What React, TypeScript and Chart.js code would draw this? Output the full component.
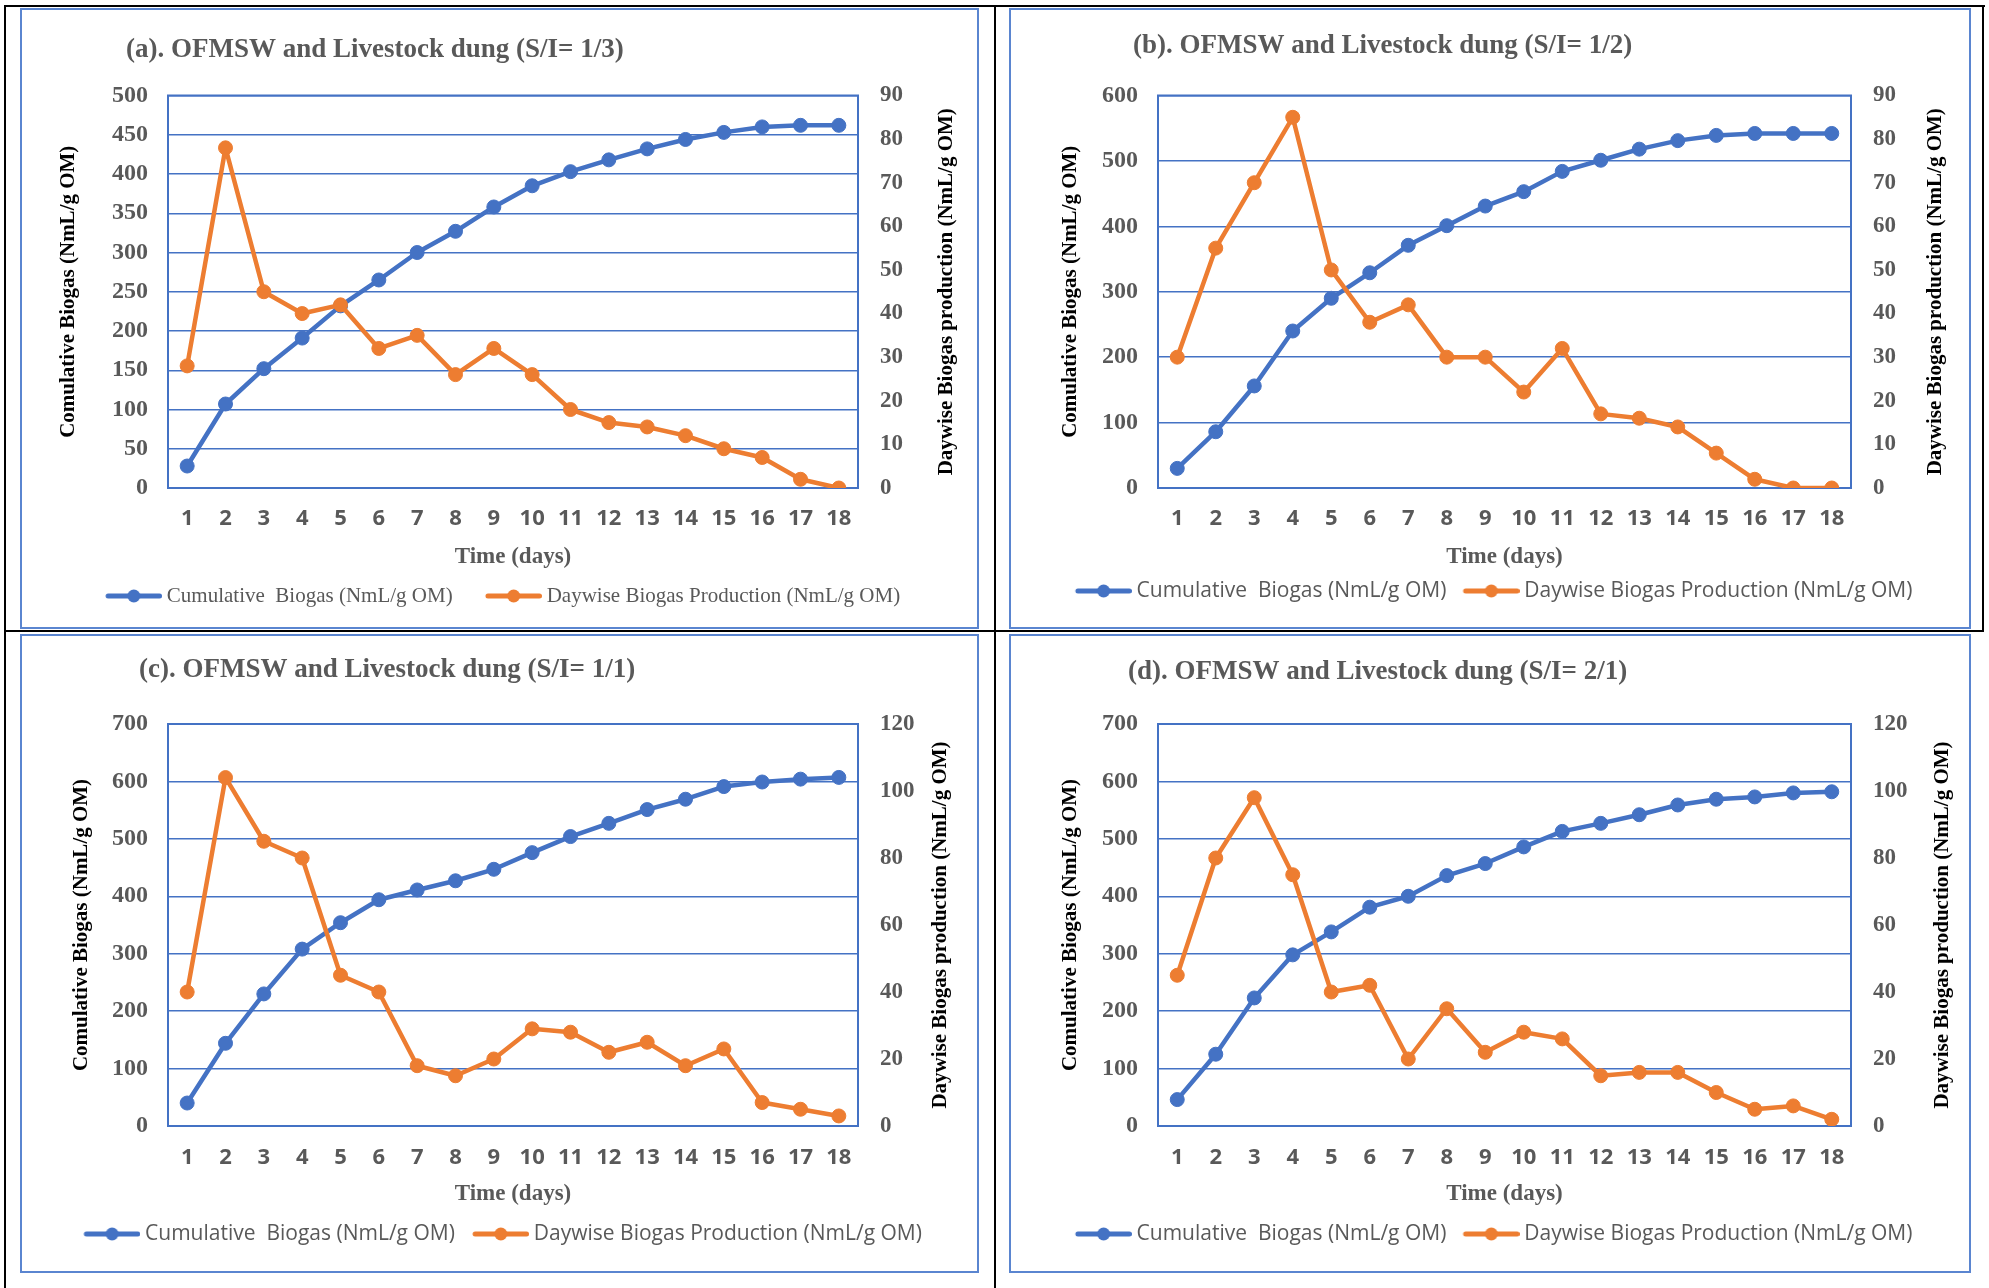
import React, { useEffect, useRef } from 'react';
import { Chart, registerables } from 'chart.js';

Chart.register(...registerables);

// ---------- data ----------
const days = ['1', '2', '3', '4', '5', '6', '7', '8', '9', '10', '11', '12', '13', '14', '15', '16', '17', '18'];

const cumulativeA = [28, 107, 152, 191, 232, 265, 300, 327, 358, 385, 403, 418, 432, 444, 453, 460, 462, 462];
const daywiseA = [28, 78, 45, 40, 42, 32, 35, 26, 32, 26, 18, 15, 14, 12, 9, 7, 2, 0];

const cumulativeB = [30, 86, 156, 240, 290, 329, 371, 401, 431, 453, 484, 501, 518, 531, 539, 542, 542, 542];
const daywiseB = [30, 55, 70, 85, 50, 38, 42, 30, 30, 22, 32, 17, 16, 14, 8, 2, 0, 0];

const cumulativeC = [40, 144, 230, 308, 354, 394, 411, 427, 447, 476, 504, 527, 551, 569, 591, 599, 604, 607];
const daywiseC = [40, 104, 85, 80, 45, 40, 18, 15, 20, 29, 28, 22, 25, 18, 23, 7, 5, 3];

const cumulativeD = [46, 125, 223, 298, 338, 381, 400, 436, 457, 486, 513, 527, 542, 559, 569, 573, 580, 582];
const daywiseD = [45, 80, 98, 75, 40, 42, 20, 35, 22, 28, 26, 15, 16, 16, 10, 5, 6, 2];

const cumulativeSeries = [cumulativeA, cumulativeB, cumulativeC, cumulativeD];
const daywiseSeries = [daywiseA, daywiseB, daywiseC, daywiseD];

const panelTitles = [
  '(a). OFMSW and Livestock dung (S/I= 1/3)',
  '(b). OFMSW and Livestock dung (S/I= 1/2)',
  '(c). OFMSW and Livestock dung (S/I= 1/1)',
  '(d). OFMSW and Livestock dung (S/I= 2/1)',
];
const leftMax = [500, 600, 700, 700];
const leftStep = [50, 100, 100, 100];
const rightMax = [90, 90, 120, 120];
const rightStep = [10, 10, 20, 20];

const seriesLabels = ['Cumulative  Biogas (NmL/g OM)', 'Daywise Biogas Production (NmL/g OM)'];
const leftAxisTitle = 'Comulative Biogas (NmL/g OM)';
const rightAxisTitle = 'Daywise Biogas production (NmL/g OM)';
const xAxisTitle = 'Time (days)';

const BLUE = '#4472C4';
const ORANGE = '#ED7D31';
const GREY = '#595959';
const SERIF = '"Liberation Serif", "Times New Roman", serif';

// ---------- layout (positions/styles only) ----------
const layouts = [
  { x: 20, y: 8, w: 959, h: 621, chartLeft: 148, chartRight: 838, chartTop: 87.5, xh: 87.5, pb: 12.5, pl: 10, pr: 26,
    titleX: 106, titleY: 42, leftTitlePad: 26.4, rightTitleOff: 89, xTickPad: 17.8, xTitlePad: 4.7, legendFamily: SERIF, lineStart: 23 },
  { x: 1009, y: 8, w: 962, h: 621, chartLeft: 149, chartRight: 842, chartTop: 87.5, xh: 82.5, pb: 17.5, pl: 15, pr: 14,
    titleX: 124, titleY: 38, leftTitlePad: 34.4, rightTitleOff: 85, xTickPad: 17.8, xTitlePad: 0, legendFamily: '"Open Sans"', lineStart: 7 },
  { x: 20, y: 634, w: 959, h: 639, chartLeft: 148, chartRight: 838, chartTop: 90, xh: 87.5, pb: 18.5, pl: 15, pr: 16,
    titleX: 119, titleY: 36, leftTitlePad: 34.4, rightTitleOff: 83, xTickPad: 18.8, xTitlePad: 5.7, legendFamily: '"Open Sans"', lineStart: 8 },
  { x: 1009, y: 634, w: 962, h: 639, chartLeft: 149, chartRight: 842, chartTop: 90, xh: 87.5, pb: 18.5, pl: 15, pr: 14,
    titleX: 119, titleY: 38, leftTitlePad: 34.4, rightTitleOff: 92, xTickPad: 18.8, xTitlePad: 5.7, legendFamily: '"Open Sans"', lineStart: 7 },
];

const LEGEND_FONT = 21;
const LINE_LEN = 56;
const TEXT_GAP = 5;

function makeLegendImage(color: string, lineStart: number): { img: HTMLCanvasElement; pw: number } {
  const pw = lineStart + LINE_LEN + TEXT_GAP - LEGEND_FONT / 2;
  const half = pw / 2 + LEGEND_FONT / 2 - TEXT_GAP;
  const c = document.createElement('canvas');
  c.width = Math.round(half * 2);
  c.height = 18;
  const ctx = c.getContext('2d')!;
  const x0 = lineStart + LEGEND_FONT / 2 - TEXT_GAP;
  const x1 = c.width;
  ctx.strokeStyle = color;
  ctx.lineWidth = 5;
  ctx.lineCap = 'round';
  ctx.beginPath();
  ctx.moveTo(x0 + 2.5, 9);
  ctx.lineTo(x1 - 2.5, 9);
  ctx.stroke();
  ctx.fillStyle = color;
  ctx.beginPath();
  ctx.arc((x0 + x1) / 2, 9, 6.5, 0, Math.PI * 2);
  ctx.fill();
  return { img: c, pw };
}

const framePlugin = {
  id: 'frame',
  beforeDatasetsDraw(chart: any) {
    const { ctx, chartArea: a } = chart;
    ctx.save();
    ctx.strokeStyle = BLUE;
    ctx.lineWidth = 2;
    ctx.strokeRect(a.left, a.top, a.right - a.left, a.bottom - a.top);
    ctx.restore();
  },
  afterDraw(chart: any, _args: any, opts: any) {
    const { ctx, chartArea: a } = chart;
    ctx.save();
    ctx.font = `bold 27px ${SERIF}`;
    ctx.fillStyle = GREY;
    ctx.textAlign = 'left';
    ctx.textBaseline = 'middle';
    ctx.fillText(opts.title, opts.titleX, opts.titleY);
    ctx.translate(a.right + opts.rightTitleOff, (a.top + a.bottom) / 2);
    ctx.rotate(-Math.PI / 2);
    ctx.font = `bold 21px ${SERIF}`;
    ctx.fillStyle = '#000000';
    ctx.textAlign = 'center';
    ctx.fillText(opts.rightTitle, 0, 0);
    ctx.restore();
  },
};

function Panel({ idx }: { idx: number }) {
  const ref = useRef<HTMLCanvasElement | null>(null);
  const L = layouts[idx];

  useEffect(() => {
    if (!ref.current) return;
    const blueImg = makeLegendImage(BLUE, L.lineStart);
    const orangeImg = makeLegendImage(ORANGE, L.lineStart);
    const images = [blueImg.img, orangeImg.img];

    const chart = new Chart(ref.current, {
      type: 'line',
      data: {
        labels: days,
        datasets: [
          {
            label: seriesLabels[0],
            data: cumulativeSeries[idx],
            borderColor: BLUE,
            backgroundColor: BLUE,
            pointBackgroundColor: BLUE,
            pointBorderColor: BLUE,
            borderWidth: 4.5,
            pointRadius: 7,
            pointBorderWidth: 1,
            borderJoinStyle: 'round',
            tension: 0,
            yAxisID: 'y',
            order: 1,
          },
          {
            label: seriesLabels[1],
            data: daywiseSeries[idx],
            borderColor: ORANGE,
            backgroundColor: ORANGE,
            pointBackgroundColor: ORANGE,
            pointBorderColor: ORANGE,
            borderWidth: 4.5,
            pointRadius: 7,
            pointBorderWidth: 1,
            borderJoinStyle: 'round',
            tension: 0,
            yAxisID: 'y1',
            order: 0,
          },
        ],
      },
      options: {
        responsive: false,
        animation: false,
        layout: { padding: { left: L.pl, right: L.pr, top: L.chartTop, bottom: L.pb } },
        scales: {
          x: {
            type: 'category',
            offset: true,
            grid: { display: false, drawTicks: false },
            border: { display: false },
            ticks: { color: GREY, padding: L.xTickPad, font: { family: '"Open Sans"', size: 22, weight: 'bold' } },
            title: {
              display: true,
              text: xAxisTitle,
              color: GREY,
              font: { family: SERIF, size: 23, weight: 'bold' },
              padding: { top: 0, bottom: L.xTitlePad },
            },
            afterFit: (s: any) => { s.height = L.xh; },
          },
          y: {
            position: 'left',
            min: 0,
            max: leftMax[idx],
            grid: { color: BLUE, lineWidth: 1.5, drawTicks: false },
            border: { display: false },
            ticks: { stepSize: leftStep[idx], color: GREY, padding: 20, font: { family: SERIF, size: 24, weight: 'bold' } },
            title: {
              display: true,
              text: leftAxisTitle,
              color: '#000000',
              font: { family: SERIF, size: 21, weight: 'bold' },
              padding: { top: L.leftTitlePad, bottom: 0 },
            },
            afterFit: (s: any) => { s.width = L.chartLeft - L.pl; },
          },
          y1: {
            position: 'right',
            min: 0,
            max: rightMax[idx],
            grid: { display: false, drawTicks: false },
            border: { display: false },
            ticks: { stepSize: rightStep[idx], color: GREY, padding: 22, font: { family: SERIF, size: 23, weight: 'bold' } },
            afterFit: (s: any) => { s.width = L.w - L.chartRight - L.pr; },
          },
        },
        plugins: {
          title: { display: false },
          tooltip: { enabled: false },
          legend: {
            display: true,
            position: 'bottom',
            align: 'center',
            labels: {
              usePointStyle: true,
              pointStyleWidth: blueImg.pw,
              padding: 10,
              color: GREY,
              font: { family: L.legendFamily, size: LEGEND_FONT },
              generateLabels: (c: any) =>
                c.data.datasets.map((ds: any, i: number) => ({
                  text: ds.label,
                  datasetIndex: i,
                  pointStyle: images[i],
                  fillStyle: ds.borderColor,
                  strokeStyle: ds.borderColor,
                  lineWidth: 0,
                  hidden: false,
                  fontColor: GREY,
                })),
            },
          },
          frame: {
            title: panelTitles[idx],
            titleX: L.titleX,
            titleY: L.titleY,
            rightTitle: rightAxisTitle,
            rightTitleOff: L.rightTitleOff,
          },
        } as any,
      },
      plugins: [framePlugin],
    } as any);
    return () => chart.destroy();
  }, [idx]);

  return (
    <div style={{ position: 'absolute', left: L.x, top: L.y, width: L.w, height: L.h }}>
      <div
        style={{
          position: 'absolute',
          left: 0,
          top: 0,
          width: L.w,
          height: L.h,
          boxSizing: 'border-box',
          border: '2px solid #5A85D0',
        }}
      />
      <canvas ref={ref} width={L.w} height={L.h} style={{ position: 'absolute', left: 0, top: 0, display: 'block' }} />
    </div>
  );
}

const blackLines = [
  { left: 4, top: 5, width: 1981, height: 2 },
  { left: 4, top: 5, width: 2, height: 1283 },
  { left: 994, top: 5, width: 2, height: 1283 },
  { left: 1982, top: 5, width: 2, height: 627 },
  { left: 4, top: 630, width: 1980, height: 2 },
];

export default function App() {
  return (
    <div style={{ position: 'absolute', left: 0, top: 0, width: 1989, height: 1288, background: '#ffffff', overflow: 'hidden' }}>
      {blackLines.map((b, i) => (
        <div key={i} style={{ position: 'absolute', background: '#000000', ...b }} />
      ))}
      {[0, 1, 2, 3].map((i) => (
        <Panel key={i} idx={i} />
      ))}
    </div>
  );
}
